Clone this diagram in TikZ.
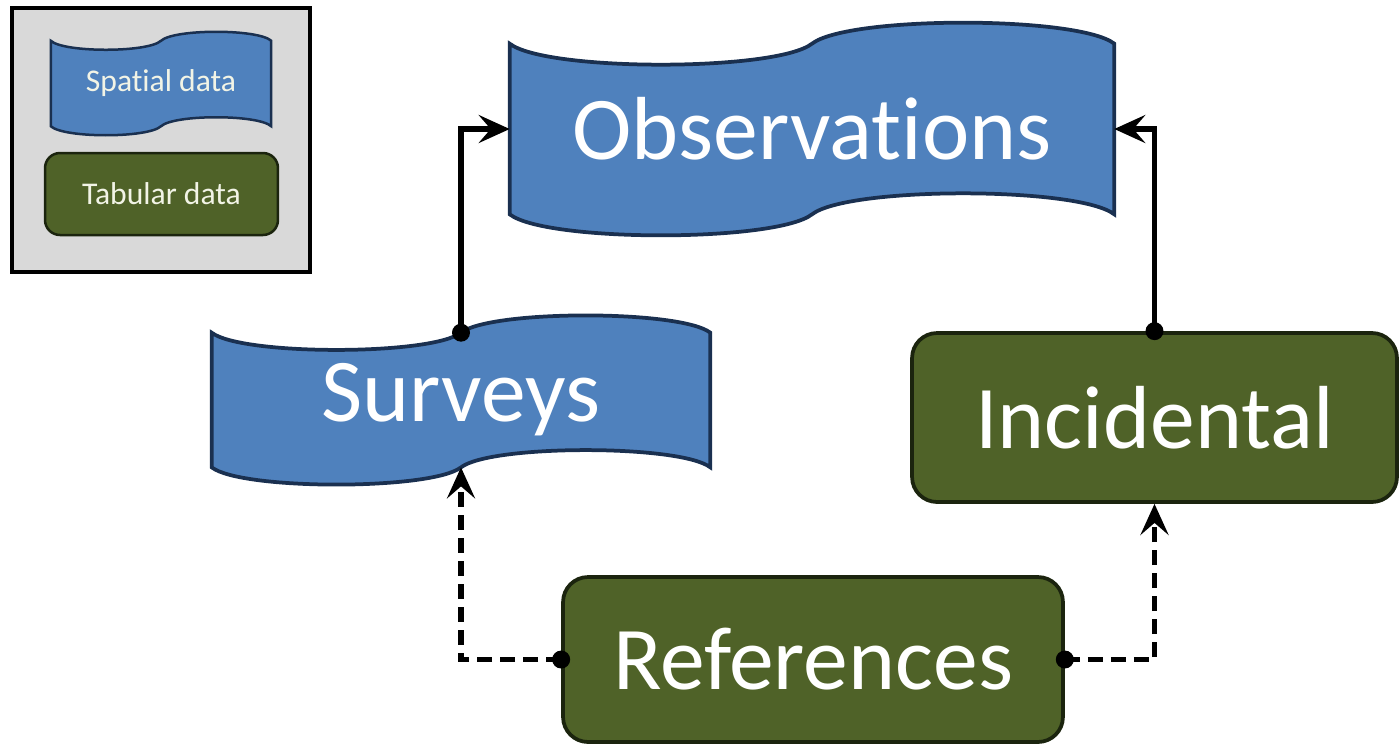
\documentclass[tikz,border=0pt]{standalone}
\usepackage{fontspec}
\setmainfont{Carlito}[Ligatures=NoCommon,RawFeature={-liga;-clig;-dlig}]
\usetikzlibrary{arrows.meta,calc,backgrounds}
\definecolor{spblue}{HTML}{4F81BD}
\definecolor{spedge}{HTML}{1A3050}
\definecolor{tbgreen}{HTML}{4F6228}
\definecolor{tbedge}{HTML}{1B240E}
\definecolor{legbg}{HTML}{D9D9D9}
\definecolor{legtext}{HTML}{F2F4E6}
\newcommand\mainlabelfont{\fontsize{51}{60}\selectfont}
\newcommand\legendlabelfont{\fontsize{18}{22}\selectfont}
% #1 node name, #2 amplitude of the wave (in picture units)
\newcommand\drawbanner[2]{%
  \draw[bannerline] (#1.north west)
    .. controls ($(#1.north west)!0.12!(#1.north)+(0,#2)$) and ($(#1.north west)!0.88!(#1.north)+(0,#2)$) .. (#1.north)
    .. controls ($(#1.north)!0.12!(#1.north east)+(0,-#2)$) and ($(#1.north)!0.88!(#1.north east)+(0,-#2)$) .. (#1.north east)
    -- (#1.south east)
    .. controls ($(#1.south)!0.88!(#1.south east)+(0,-#2)$) and ($(#1.south)!0.12!(#1.south east)+(0,-#2)$) .. (#1.south)
    .. controls ($(#1.south west)!0.88!(#1.south)+(0,#2)$) and ($(#1.south west)!0.12!(#1.south)+(0,#2)$) .. (#1.south west)
    -- cycle;}
\begin{document}
\begin{tikzpicture}[x=0.02cm,y=-0.02cm,
  spatial/.style={inner sep=0pt, text=white, font=\mainlabelfont},
  tabular/.style={draw=tbedge, line width=0.075cm, fill=tbgreen, rounded corners=0.5cm,
    inner sep=0pt, text=white, font=\mainlabelfont},
  small/.style={font=\legendlabelfont, text=legtext, line width=0.05cm},
  bannerline/.style={draw=spedge, line width=0.075cm, fill=spblue},
  legendbox/.style={draw=black, line width=0.07cm, fill=legbg, inner sep=0pt},
  conn/.style={line width=0.11cm, -{Stealth[length=0.62cm,width=0.56cm,inset=0.24cm]}},
  dashconn/.style={conn, dash pattern=on 0.3cm off 0.16cm},
  dot/.style={fill=black}]
\useasboundingbox (0,0) rectangle (1399,745);
% main nodes
\node[spatial, minimum width=12.08cm, minimum height=3.4cm] (obs) at (812,129) {Observat\kern0pt ions};
\node[spatial, minimum width=9.96cm, minimum height=2.68cm] (surv) at (461,400) {Surveys};
\node[tabular, minimum width=9.7cm, minimum height=3.38cm] (inc) at (1154.5,417.5) {Incidental};
\node[tabular, minimum width=10cm, minimum height=3.3cm] (ref) at (813,659.5) {References};
% legend
\node[spatial, small, minimum width=4.36cm, minimum height=1.66cm] (spat) at (161,83.5) {Spat\kern0pt ial data};
\node[tabular, small, rounded corners=0.3cm, minimum width=4.66cm, minimum height=1.64cm] (tab) at (161.5,194) {Tabular data};
\begin{scope}[on background layer]
  \node[legendbox, minimum width=5.96cm, minimum height=5.28cm] (legend) at (161,140) {};
  \drawbanner{obs}{28}
  \drawbanner{surv}{23}
  \begin{scope}[bannerline/.style={draw=spedge, line width=0.05cm, fill=spblue}]
    \drawbanner{spat}{12}
  \end{scope}
\end{scope}
% connectors
\draw[conn] (surv.north) -- (surv.north |- obs.west) -- (obs.west);
\draw[conn] (inc.north) -- (inc.north |- obs.east) -- (obs.east);
\draw[dashconn] (ref.west) -- (ref.west -| surv.south) -- (surv.south);
\draw[dashconn] (ref.east) -- (ref.east -| inc.south) -- (inc.south);
\fill[dot] (surv.north) circle (9);
\fill[dot] (inc.north) circle (9);
\fill[dot] (ref.west) circle (9);
\fill[dot] (ref.east) circle (9);
\end{tikzpicture}
\end{document}
